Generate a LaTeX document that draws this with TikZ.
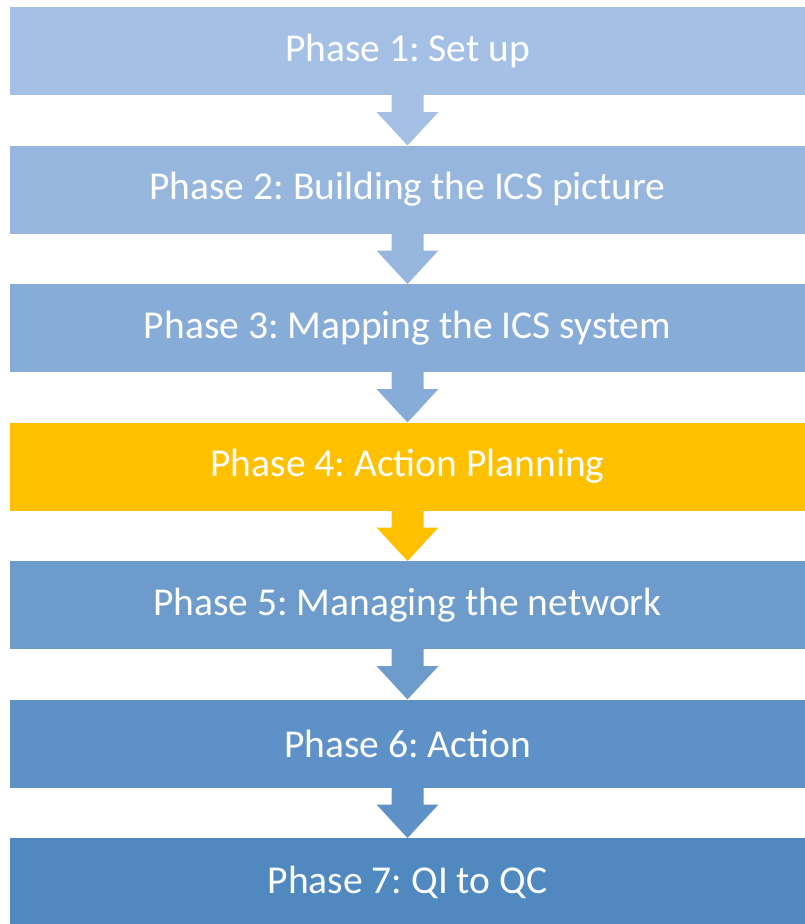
\documentclass[tikz,border=0pt]{standalone}
\usepackage{fontspec}
\setmainfont{Carlito}
\usepackage{tikz}
\usetikzlibrary{calc}
\frenchspacing
\definecolor{phaseA}{HTML}{A4C1E5}
\definecolor{phaseB}{HTML}{96B6DE}
\definecolor{phaseC}{HTML}{88ACD8}
\definecolor{phaseD}{HTML}{FFC000}
\definecolor{phaseE}{HTML}{6C9BCC}
\definecolor{phaseF}{HTML}{5E91C7}
\definecolor{phaseG}{HTML}{5089C0}
\tikzstyle{phase} = [rectangle, minimum width=795pt, minimum height=88pt, inner sep=0pt, outer sep=0pt, text centered, text=white, font=\fontsize{39.5}{44}\selectfont]
\newcommand{\phasearrow}[3]{\fill[#3] ($(#1.south)+(-16pt,0)$) -- ($(#1.south)+(-16pt,-17pt)$) -- ($(#1.south)+(-31pt,-17pt)$) -- (#2.north) -- ($(#1.south)+(31pt,-17pt)$) -- ($(#1.south)+(16pt,-17pt)$) -- ($(#1.south)+(16pt,0)$) -- cycle;}

\begin{document}
\begin{tikzpicture}[node distance=138.5pt]
    \useasboundingbox (0,0) rectangle (805pt,-924pt);
    \node (p1)[phase, fill=phaseA] at (407.5pt,-51pt) {Phase 1: Set up};
    \node (p2)[phase, fill=phaseB, below of=p1]{Phase 2: Building the ICS picture};
    \node (p3)[phase, fill=phaseC, below of=p2]{Phase 3: Mapping the ICS system};
    \node (p4)[phase, fill=phaseD, below of=p3]{Phase 4: Action Planning};
    \node (p5)[phase, fill=phaseE, below of=p4]{Phase 5: Managing the network};
    \node (p6)[phase, fill=phaseF, below of=p5]{Phase 6: Action};
    \node (p7)[phase, fill=phaseG, below of=p6]{Phase 7: QI to QC};
    \phasearrow{p1}{p2}{phaseA}
    \phasearrow{p2}{p3}{phaseB}
    \phasearrow{p3}{p4}{phaseC}
    \phasearrow{p4}{p5}{phaseD}
    \phasearrow{p5}{p6}{phaseE}
    \phasearrow{p6}{p7}{phaseF}
  \end{tikzpicture}
\end{document}
